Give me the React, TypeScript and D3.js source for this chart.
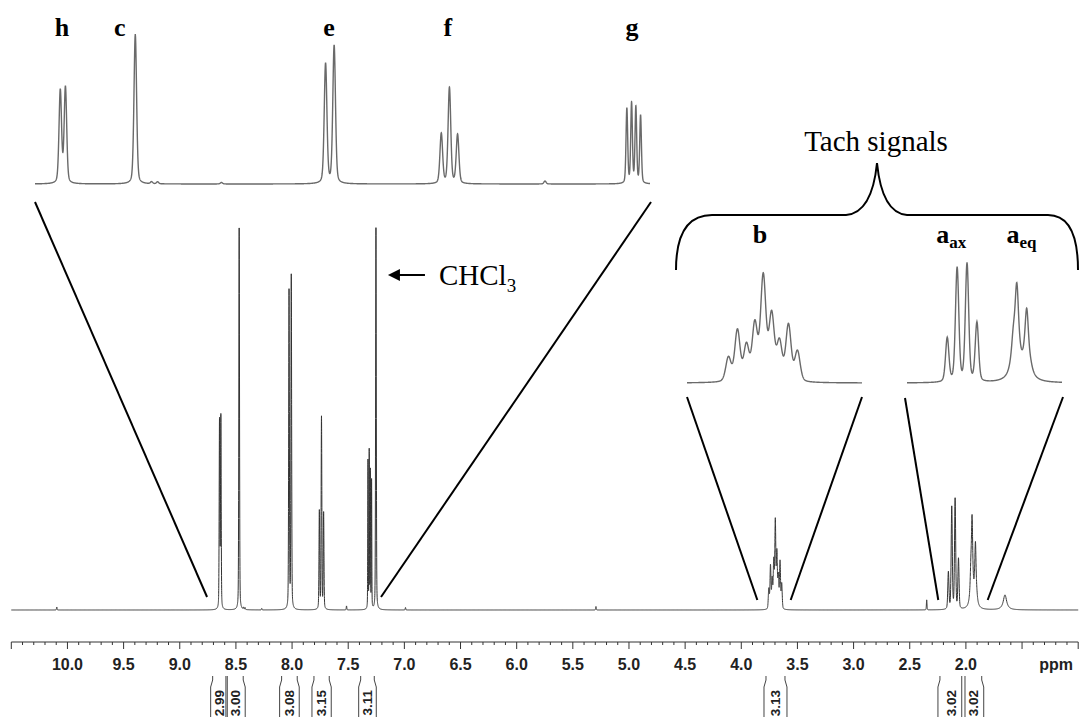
import React from 'react';
import * as d3 from 'd3';

const WIDTH = 1079;
const HEIGHT = 717;

// ---- peaks: ppm, height in the full trace, height in the expansion ----
const hPpm = [8.646, 8.634];
const hMain = [188, 192];
const hZoom = [93, 96];

const cPpm = [8.471];
const cMain = [382];
const cZoom = [150];

const ePpm = [8.027, 8.007];
const eMain = [318, 333];
const eZoom = [120, 138];

const fPpm = [7.757, 7.738, 7.719];
const fMain = [98, 192, 96];
const fZoom = [50, 96, 49];

const gPpm = [7.324, 7.313, 7.303, 7.292];
const gMain = [148, 157, 137, 128];
const gZoom = [75, 80, 76, 68];

const solventPpm = [7.253];
const solventMain = [382];

const bPpm = [3.755, 3.74, 3.725, 3.711, 3.697, 3.683, 3.67, 3.655, 3.64];
const bMain = [20, 43, 29, 47, 87, 55, 32, 47, 25];
const bZoom = [24, 51, 35, 56, 104, 65, 38, 56, 30];

const aAxPpm = [2.156, 2.126, 2.096, 2.066];
const aAxMain = [37, 102, 110, 50];
const aAxZoom = [44, 114, 118, 59];

const aEqPpm = [1.956, 1.945, 1.915, 1.902];
const aEqMain = [24, 84, 62, 3];
const aEqZoom = [26, 88, 68, 3];

const minorPpm = [10.095, 8.433, 8.419, 8.27, 7.515, 6.99, 5.294, 2.349];
const minorMain = [3, 2, 2, 1.5, 4, 2.5, 3.5, 10];
const minorZoom = [0, 2, 2, 1.5, 3, 0, 0, 0];

const waterPpm = [1.652];
const waterMain = [15];

// integrals
const intFrom = [8.707, 8.577, 8.093, 7.805, 7.389, 3.78, 2.231, 2.008];
const intTo = [8.589, 8.435, 7.954, 7.669, 7.268, 3.611, 2.037, 1.859];
const intValues = ['2.99', '3.00', '3.08', '3.15', '3.11', '3.13', '3.02', '3.02'];

// assignment labels (ppm where they sit over the expansions)
const topLabels = ['h', 'c', 'e', 'f', 'g'];
const topLabelPpm = [8.642, 8.507, 8.019, 7.742, 7.312];

// ppm range of each expansion on the full trace
const topZoomEnds = [8.757, 7.208];
const bZoomEnds = [3.857, 3.56];
const aZoomEnds = [2.246, 1.806];

type Line = { ppm: number; main: number; zoom: number; hw: number; eta: number };

const mk = (ppm: number[], main: number[], zoom: number[] | null, hw: number, eta: number): Line[] =>
  ppm.map((p, i) => ({ ppm: p, main: main[i], zoom: zoom ? zoom[i] : 0, hw, eta }));

const shape = (d: number, hw: number, eta: number) => {
  const u = d / hw;
  return (1 - eta) * Math.exp(-Math.LN2 * u * u) + eta / (1 + u * u);
};

function sample(peaks: Line[], key: 'main' | 'zoom', a: number, b: number, step: number): [number, number][] {
  const lo = Math.min(a, b);
  const hi = Math.max(a, b);
  const pts: number[] = d3.range(lo, hi, step);
  pts.push(hi);
  peaks.forEach((p) => {
    if (p[key] <= 0 || p.ppm < lo || p.ppm > hi) return;
    for (let k = -40; k <= 40; k++) {
      const v = p.ppm + (k * p.hw) / 6;
      if (v > lo && v < hi) pts.push(v);
    }
  });
  pts.sort((x, y) => y - x);
  return pts.map((v) => [v, peaks.reduce((s, p) => s + p[key] * shape(v - p.ppm, p.hw, p.eta), 0)]);
}

export default function App() {
  const aromatic = [
    ...mk(hPpm, hMain, hZoom, 0.0035, 0.3),
    ...mk(cPpm, cMain, cZoom, 0.0036, 0.3),
    ...mk(ePpm, eMain, eZoom, 0.0037, 0.3),
    ...mk(fPpm, fMain, fZoom, 0.0037, 0.3),
    ...mk(gPpm, gMain, gZoom, 0.0023, 0.3),
    ...mk(solventPpm, solventMain, null, 0.0036, 0.3),
    ...mk(minorPpm, minorMain, minorZoom, 0.003, 0.3),
  ];
  const bLines = mk(bPpm, bMain, bZoom, 0.0052, 0.3);
  const aLines = [...mk(aAxPpm, aAxMain, aAxZoom, 0.006, 0.3), ...mk(aEqPpm, aEqMain, aEqZoom, 0.0075, 1)];
  const all = [...aromatic, ...bLines, ...aLines, ...mk(waterPpm, waterMain, null, 0.018, 1)];

  // scales
  const mainX = d3.scaleLinear().domain([10.5, 1.0]).range([11.3, 1078.2]);
  const mainY = d3.scaleLinear().domain([0, 382]).range([610, 228]);
  const topX = d3.scaleLinear().domain([8.705, 7.27]).range([35, 650]);
  const topY = d3.scaleLinear().domain([0, 150]).range([184, 34]);
  const bX = d3.scaleLinear().domain([3.824, 3.5325]).range([687, 862]);
  const bY = d3.scaleLinear().domain([0, 111]).range([383, 272]);
  const aX = d3.scaleLinear().domain([2.278, 1.808]).range([907, 1062]);
  const aY = d3.scaleLinear().domain([0, 120]).range([383, 263]);

  const path = (xs: d3.ScaleLinear<number, number>, ys: d3.ScaleLinear<number, number>, pts: [number, number][]) =>
    d3.line<[number, number]>().x((d) => xs(d[0])).y((d) => ys(d[1]))(pts) || '';

  const mainPath = path(mainX, mainY, sample(all, 'main', 10.5, 1.0, 0.004));
  const topPath = path(topX, topY, sample(aromatic, 'zoom', 8.705, 7.27, 0.001));
  const bPath = path(bX, bY, sample(bLines, 'zoom', 3.824, 3.5325, 0.0008));
  const aPath = path(aX, aY, sample(aLines, 'zoom', 2.278, 1.808, 0.0015));

  // axis ticks
  const ticks = d3.range(10, 106).map((i) => ({ v: i / 10, major: i % 5 === 0 }));
  const tickLabels = d3.range(20, 101, 5).map((i) => i / 10);
  const axisY = 642;

  // connectors between trace and expansions
  const connectors = [
    { x1: topX.range()[0], y1: 202, x2: mainX(topZoomEnds[0]), y2: 597 },
    { x1: topX.range()[1] + 1, y1: 202, x2: mainX(topZoomEnds[1]), y2: 597 },
    { x1: bX.range()[0], y1: 397, x2: mainX(bZoomEnds[0]), y2: 600 },
    { x1: bX.range()[1], y1: 397, x2: mainX(bZoomEnds[1]), y2: 600 },
    { x1: aX.range()[0] - 2, y1: 398, x2: mainX(aZoomEnds[0]), y2: 600 },
    { x1: aX.range()[1] + 1, y1: 397, x2: mainX(aZoomEnds[1]), y2: 600 },
  ];

  const chcl3X = mainX(solventPpm[0]);

  const serif = '"Liberation Serif", "Times New Roman", serif';
  const sans = '"Liberation Sans", Arial, sans-serif';

  return (
    <svg
      width={WIDTH}
      height={HEIGHT}
      style={{ position: 'absolute', left: 0, top: 0, background: '#fff' }}
    >
      {/* full spectrum */}
      <path d={mainPath} fill="none" stroke="#333" strokeWidth={1} />

      {/* expansions */}
      <path d={topPath} fill="none" stroke="#6a6a6a" strokeWidth={1.4} />
      <path d={bPath} fill="none" stroke="#6a6a6a" strokeWidth={1.4} />
      <path d={aPath} fill="none" stroke="#6a6a6a" strokeWidth={1.4} />

      {connectors.map((c, i) => (
        <line key={i} x1={c.x1} y1={c.y1} x2={c.x2} y2={c.y2} stroke="#000" strokeWidth={2} />
      ))}

      {/* labels over the aromatic expansion */}
      {topLabels.map((t, i) => (
        <text
          key={t}
          x={topX(topLabelPpm[i])}
          y={36}
          textAnchor="middle"
          fontFamily={serif}
          fontWeight="bold"
          fontSize={26}
        >
          {t}
        </text>
      ))}

      {/* brace + Tach signals */}
      <path
        d="M676,270 Q676,215 712,215 L846,215 Q872,213 877,163 Q882,213 907,215 L1048,215 Q1078,215 1078,270"
        fill="none"
        stroke="#000"
        strokeWidth={2}
      />
      <text x={876} y={151} textAnchor="middle" fontFamily={serif} fontSize={29}>
        Tach signals
      </text>
      <text x={bX(3.7025)} y={243} textAnchor="middle" fontFamily={serif} fontWeight="bold" fontSize={26}>
        b
      </text>
      <text x={aX(2.144)} y={243} textAnchor="middle" fontFamily={serif} fontWeight="bold" fontSize={26}>
        a
        <tspan fontSize={17} dy={5}>
          ax
        </tspan>
      </text>
      <text x={aX(1.931)} y={243} textAnchor="middle" fontFamily={serif} fontWeight="bold" fontSize={26}>
        a
        <tspan fontSize={17} dy={5}>
          eq
        </tspan>
      </text>

      {/* CHCl3 arrow */}
      <line x1={chcl3X + 49} y1={275} x2={chcl3X + 20} y2={275} stroke="#000" strokeWidth={2} />
      <polygon
        points={`${chcl3X + 12},275 ${chcl3X + 24},269 ${chcl3X + 24},281`}
        fill="#000"
      />
      <text x={chcl3X + 63} y={285} fontFamily={serif} fontSize={29}>
        CHCl
        <tspan fontSize={19} dy={7}>
          3
        </tspan>
      </text>

      {/* ppm axis */}
      <line x1={mainX(10.5)} x2={mainX(1.0)} y1={axisY} y2={axisY} stroke="#333" strokeWidth={1} />
      {ticks.map((t) => (
        <line
          key={t.v}
          x1={mainX(t.v)}
          x2={mainX(t.v)}
          y1={axisY}
          y2={axisY + (t.major ? 7 : 3)}
          stroke="#333"
          strokeWidth={1}
        />
      ))}
      {tickLabels.map((v) => (
        <text
          key={v}
          x={mainX(v)}
          y={670}
          textAnchor="middle"
          fontFamily={sans}
          fontWeight="bold"
          fontSize={16}
          fill="#222"
        >
          {v.toFixed(1)}
        </text>
      ))}
      <text x={1073} y={670} textAnchor="end" fontFamily={sans} fontWeight="bold" fontSize={16} fill="#222">
        ppm
      </text>

      {/* integrals */}
      {intValues.map((val, i) => {
        const xl = mainX(intFrom[i]);
        const xr = mainX(intTo[i]);
        const prevGap = i > 0 ? xl - mainX(intTo[i - 1]) : 99;
        const nextGap = i < intValues.length - 1 ? mainX(intFrom[i + 1]) - xr : 99;
        const kl = prevGap < 4 ? 0 : 2;
        const kr = nextGap < 4 ? 0 : 2;
        const cx = (xl + xr) / 2;
        return (
          <g key={i}>
            <path
              d={`M${xl},676 L${xl},680 L${xl - kl},687 L${xl - kl},717 M${xr},676 L${xr},680 L${xr + kr},687 L${xr + kr},717`}
              fill="none"
              stroke="#444"
              strokeWidth={1}
            />
            <text
              transform={`translate(${cx},690) rotate(-90)`}
              textAnchor="end"
              dy="0.36em"
              fontFamily={sans}
              fontWeight="bold"
              fontSize={13.5}
              fill="#222"
            >
              {val}
            </text>
          </g>
        );
      })}
    </svg>
  );
}
